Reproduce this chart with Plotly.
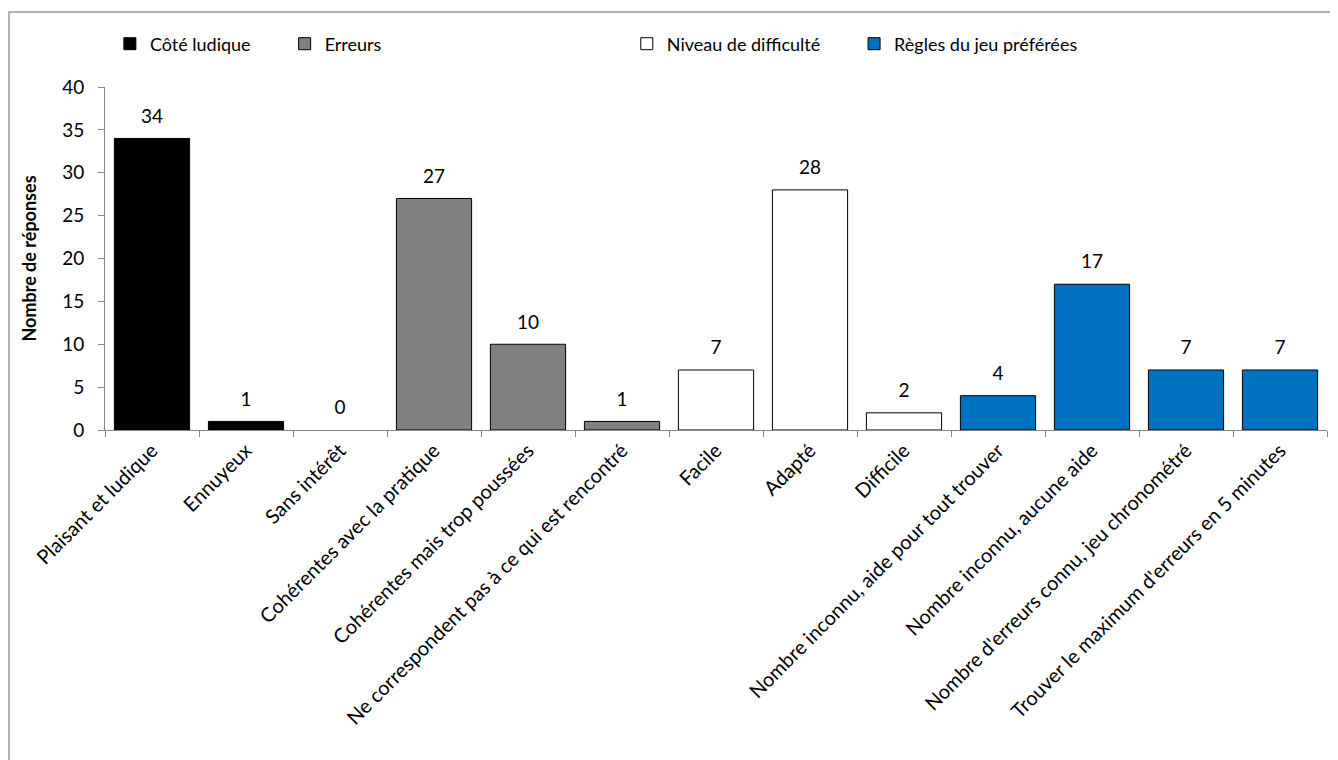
import plotly.graph_objects as go

categories = [
    "Plaisant et ludique", "Ennuyeux", "Sans intérêt",
    "Cohérentes avec la pratique", "Cohérentes mais trop poussées",
    "Ne correspondent pas à ce qui est rencontré",
    "Facile", "Adapté", "Difficile",
    "Nombre inconnu, aide pour tout trouver", "Nombre inconnu, aucune aide",
    "Nombre d'erreurs connu, jeu chronométré", "Trouver le maximum d'erreurs en 5 minutes",
]
groups = ["Côté ludique", "Erreurs", "Niveau de difficulté", "Règles du jeu préférées"]
group_cats = [categories[0:3], categories[3:6], categories[6:9], categories[9:13]]
group_values = [[34, 1, 0], [27, 10, 1], [7, 28, 2], [4, 17, 7, 7]]
colors = ["#000000", "#808080", "#FFFFFF", "#0070C0"]
legend_names = ["legend", "legend2", "legend3", "legend4"]
legend_x = [0.004, 0.147, 0.427, 0.613]

FONT = "Lato"
W, H = 1330, 752
ML, MR, MT, MB = 97, 11, 79, 330

fig = go.Figure()
for g, cats, vals, col, lg in zip(groups, group_cats, group_values, colors, legend_names):
    fig.add_trace(go.Bar(
        x=cats, y=vals, name=g, legend=lg,
        marker=dict(color=col, line=dict(color="#000000",
                                         width=[1 if v > 0 else 0 for v in vals])),
        hoverinfo="x+y",
    ))
for cats, vals in zip(group_cats, group_values):
    fig.add_trace(go.Scatter(
        x=cats, y=vals, mode="markers+text", showlegend=False,
        marker=dict(size=16, color="rgba(0,0,0,0)"),
        text=[str(v) for v in vals], textposition="top center",
        textfont=dict(family=FONT, size=19, color="#000000"),
        cliponaxis=False, hoverinfo="skip",
    ))

pw = W - ML - MR
ph = H - MT - MB
layout_legends = {}
for lg, lx in zip(legend_names, legend_x):
    layout_legends[lg] = dict(
        x=lx, y=1 + (MT - 36) / ph, xanchor="left", yanchor="middle",
        orientation="h", bgcolor="rgba(0,0,0,0)",
        font=dict(family=FONT, size=18, color="#000000"),
        itemwidth=30,
    )

fig.update_layout(
    width=W, height=H,
    margin=dict(l=ML, r=MR, t=MT, b=MB, autoexpand=False),
    paper_bgcolor="#FFFFFF", plot_bgcolor="#FFFFFF",
    barmode="relative", bargap=0.2,
    font=dict(family=FONT, size=18, color="#000000"),
    showlegend=True,
    **layout_legends,
)
fig.update_yaxes(
    range=[0, 40], dtick=5, showgrid=False, zeroline=False, automargin=False,
    showline=True, linecolor="#868686", linewidth=1,
    ticks="outside", ticklen=6, tickcolor="#868686", ticklabelstandoff=10,
    tickfont=dict(family=FONT, size=19, color="#000000"),
    title=dict(text="<b>Nombre de réponses</b>", font=dict(family=FONT, size=18), standoff=20),
)
fig.update_xaxes(
    categoryorder="array", categoryarray=categories, automargin=False,
    range=[-0.5, len(categories) - 0.5],
    showgrid=False, showline=True, linecolor="#868686", linewidth=1,
    ticks="outside", ticklen=6, tickcolor="#868686", tickson="boundaries",
    tickangle=-45, tickfont=dict(family=FONT, size=20, color="#000000"),
)
# chart border
fig.add_shape(
    type="rect", xref="paper", yref="paper",
    x0=(1 - ML) / pw, x1=(W - 2 - ML) / pw,
    y0=-(H + 20 - MT - ph) / ph, y1=1 + (MT - 4) / ph,
    line=dict(color="#9A9A9A", width=1.5), fillcolor="rgba(0,0,0,0)",
    layer="below",
)

fig.write_html("out.html")
